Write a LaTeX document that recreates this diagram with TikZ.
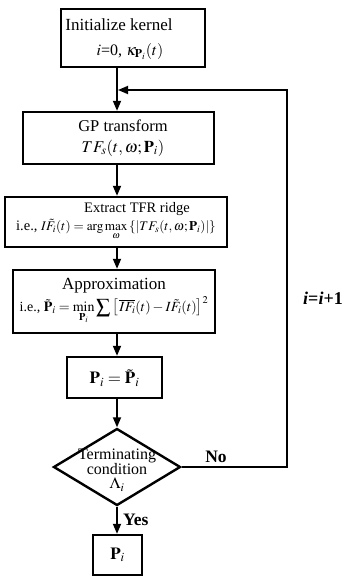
\documentclass[tikz,border=0pt]{standalone}
\usepackage{mathptmx}
\usepackage{fontspec}
\setmainfont{Liberation Serif}
\usetikzlibrary{arrows.meta,shapes.geometric}

\begin{document}
\begin{tikzpicture}[x=1pt,y=-1pt,
  box/.style={draw,line width=2.4pt,rectangle,inner sep=0pt},
  txt/.style={inner sep=0pt,align=center},
  link/.style={line width=1.7pt,-{Triangle[length=10pt,width=8pt]}}]
\useasboundingbox (0,0) rectangle (346,578);

% vertical axis of the main flow
\coordinate (axis) at (117,0);

% process boxes
\node[box,minimum width=144pt,minimum height=58pt] (init) at (133,38) {};
\node[txt,font=\fontsize{17}{25}\selectfont] (initT) at (119,39)
  {Initialize kernel\\\hspace*{22pt}{\fontsize{16}{18}\selectfont$i$=0, $\kappa_{\mathbf P_i}\!\left(t\right)$}};

\node[box,minimum width=191pt,minimum height=52pt] (gp) at (118.5,138) {};
\node[txt,font=\fontsize{16.5}{21}\selectfont] (gpT) at (123,138)
  {GP transform\\$TF_s\!\left(t,\omega;\mathbf P_i\right)$};

\node[box,minimum width=222pt,minimum height=50pt] (ridge) at (116,222) {};
\node[txt,font=\fontsize{14.5}{18}\selectfont] (ridgeT) at (116,221)
  {\hspace*{42pt}Extract TFR ridge\\
   i.e.,~{\fontsize{13.2}{15}\selectfont$I\tilde F_i(t)=\arg\max\limits_{\omega}\left\{\left|TF_s\!\left(t,\omega;\mathbf P_i\right)\right|\right\}$}};

\node[box,minimum width=202pt,minimum height=63pt] (approx) at (114,301.5) {};
\node[txt,font=\fontsize{17}{22}\selectfont] (approxT) at (114,301)
  {Approximation\\
   {\fontsize{14}{16}\selectfont i.e., $\tilde{\mathbf P}_i=\min\limits_{\mathbf P_i}{\displaystyle\sum}\left[\,\overline{IF_i}(t)-I\tilde F_i(t)\right]^2$}};

\node[box,minimum width=95pt,minimum height=41pt] (update) at (114.5,377.5) {};
\node[txt,font=\fontsize{17}{20}\selectfont] (updateT) at (114.5,378)
  {$\mathbf P_i=\tilde{\mathbf P}_i$};

% decision
\node[draw,diamond,line width=2.4pt,inner sep=0pt,
      minimum width=127pt,minimum height=77pt] (cond) at (117,467) {};
\node[txt,font=\fontsize{16}{14}\selectfont] (condT) at (117,470)
  {Terminating\\condition\\$\Lambda_i$};

% result
\node[box,minimum width=49pt,minimum height=40pt] (result) at (117.5,555) {};
\node[txt,font=\fontsize{17}{20}\selectfont] (resultT) at (117.5,555) {$\mathbf P_i$};

% main flow
\draw[link] (init.south -| axis) -- (gp.north -| axis);
\draw[link] (gp.south -| axis) -- (ridge.north -| axis);
\draw[link] (ridge.south -| axis) -- (approx.north -| axis);
\draw[link] (approx.south -| axis) -- (update.north -| axis);
\draw[link] (update.south -| axis) -- (cond.north);
\draw[link] (cond.south) -- (result.north -| cond.south);

% feedback loop
\coordinate (back) at (287,90);
\coordinate (join) at (118,90);
\draw[link] (cond.east) -| (back) -- (join);

% labels
\node[txt,font=\fontsize{17.5}{20}\selectfont\bfseries] (no) at (216,457) {No};
\node[txt,font=\fontsize{17.5}{20}\selectfont\bfseries,anchor=west] (yes) at (123,520) {Yes};
\node[txt,font=\fontsize{18}{20}\selectfont\bfseries] (incr) at (323,298) {\textit{i}=\textit{i}+1};
\end{tikzpicture}
\end{document}
